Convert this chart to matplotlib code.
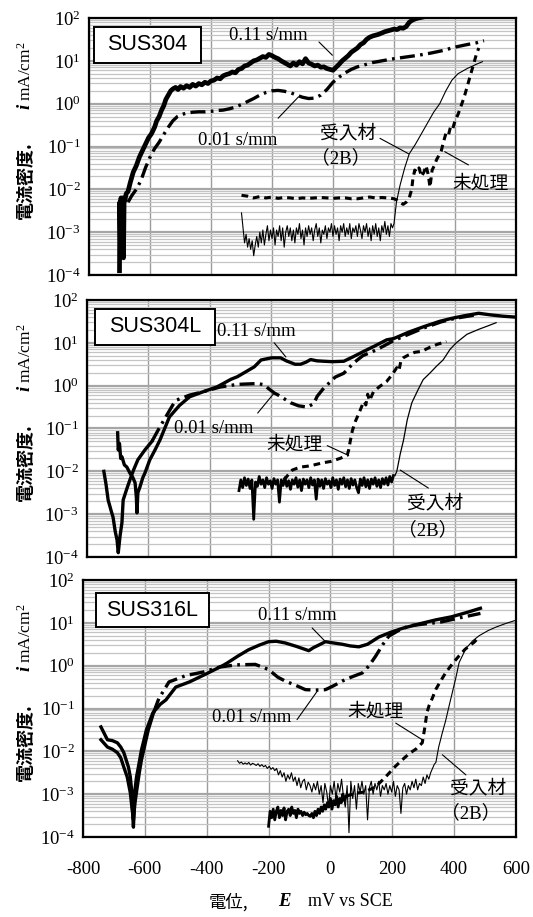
import numpy as np
import matplotlib
matplotlib.use("Agg")
import matplotlib.pyplot as plt
from matplotlib.ticker import FixedLocator, NullFormatter, LogLocator
from matplotlib.patches import Rectangle

plt.rcParams['mathtext.fontset'] = 'custom'
plt.rcParams['mathtext.rm'] = 'Liberation Serif'
plt.rcParams['mathtext.it'] = 'Liberation Serif:italic'
plt.rcParams['mathtext.bf'] = 'Liberation Serif:bold'
plt.rcParams['font.family'] = ['Liberation Serif', 'Noto Sans CJK JP']

# ---------------- data (x: mV vs SCE, y: log10 of i in mA/cm2) ----------------
panel_names = ["SUS304", "SUS304L", "SUS316L"]
x_ticks = [-800, -600, -400, -200, 0, 200, 400, 600]
y_exponents = [-4, -3, -2, -1, 0, 1, 2]

# ---- SUS304 ----
p1_fast_x = [-700, -699, -697, -695, -693, -691, -689, -687, -685, -682, -678, -672, -665, -655, -645, -635, -625, -615, -605,
             -595, -585, -578, -570, -562, -555, -548, -540, -532, -524, -516, -508, -500, -490, -480, -470, -460, -450, -440,
             -430, -420, -410, -400, -390, -380, -370, -360, -350, -340, -330, -320, -310, -300, -290, -280, -270, -260, -250,
             -240, -230, -220, -210, -200, -190, -180, -170, -160, -150, -140, -130, -120, -110, -100, -90, -80, -70, -60, -50,
             -40, -30, -20, -10, 0, 10, 20, 30, 40, 50, 60, 70, 80, 90, 100, 110, 120, 130, 140, 150, 160, 170, 180, 190, 200,
             210, 220, 230, 240, 250, 260, 270, 280, 300, 330, 360, 400, 420]
p1_fast_y = [-3.9, -2.3, -3.3, -2.2, -3.4, -2.4, -2.2, -3.6, -2.3, -2.25, -2.1, -2.05, -1.85, -1.6, -1.45, -1.25, -1.1, -0.95, -0.8,
             -0.7, -0.55, -0.4, -0.3, -0.15, -0.05, 0.1, 0.2, 0.3, 0.35, 0.38, 0.33, 0.4, 0.36, 0.42, 0.38, 0.45, 0.41, 0.47,
             0.44, 0.5, 0.47, 0.53, 0.55, 0.6, 0.58, 0.65, 0.68, 0.7, 0.74, 0.72, 0.8, 0.82, 0.88, 0.9, 0.95, 1.0, 1.02,
             1.06, 1.1, 1.08, 1.15, 1.12, 1.08, 1.05, 1.0, 0.96, 0.92, 0.88, 0.95, 0.9, 0.98, 0.93, 1.05, 0.95, 0.92, 0.88, 0.9,
             0.85, 0.86, 0.82, 0.8, 0.78, 0.85, 0.92, 1.0, 1.06, 1.12, 1.2, 1.25, 1.3, 1.38, 1.42, 1.5, 1.55, 1.58, 1.6, 1.62,
             1.65, 1.68, 1.7, 1.72, 1.74, 1.73, 1.77, 1.76, 1.8, 1.9, 1.95, 1.98, 2.0, 2.03, 2.06, 2.08, 2.1, 2.12]
p1_slow_x = [-672, -660, -645, -630, -615, -600, -585, -570, -555, -540, -525, -510, -495, -480, -460, -440, -420, -400, -380,
             -360, -340, -320, -300, -280, -260, -240, -220, -200, -180, -160, -140, -120, -100, -80, -60, -40, -20, 0, 20, 40,
             60, 80, 100, 130, 160, 200, 240, 280, 320, 360, 400, 440, 470, 495]
p1_slow_y = [-2.3, -2.15, -2.0, -1.8, -1.5, -1.25, -1.05, -0.9, -0.72, -0.55, -0.4, -0.3, -0.25, -0.22, -0.2, -0.19, -0.19, -0.18,
             -0.16, -0.15, -0.12, -0.08, -0.02, 0.05, 0.12, 0.2, 0.26, 0.3, 0.31, 0.29, 0.26, 0.2, 0.15, 0.12, 0.13, 0.2, 0.33,
             0.5, 0.62, 0.72, 0.8, 0.86, 0.9, 0.96, 1.0, 1.05, 1.09, 1.13, 1.18, 1.24, 1.32, 1.38, 1.42, 1.47]
p1_untr_x = [-300, -280, -260, -240, -220, -200, -180, -160, -140, -120, -100, -80, -60, -40, -20, 0, 20, 40, 60, 80, 100, 120,
             140, 160, 180, 200, 210, 220, 230, 240, 250, 258, 262, 268, 275, 282, 290, 298, 305, 312, 318, 325, 332, 340, 348,
             355, 362, 370, 378, 385, 392, 400, 410, 420, 430, 440, 450, 460, 470, 478]
p1_untr_y = [-2.14, -2.16, -2.2, -2.17, -2.2, -2.18, -2.21, -2.19, -2.2, -2.22, -2.2, -2.21, -2.2, -2.19, -2.2, -2.21, -2.2, -2.2,
             -2.22, -2.22, -2.2, -2.18, -2.2, -2.19, -2.2, -2.22, -2.25, -2.3, -2.35, -2.3, -2.2, -2.0, -1.75, -1.55, -1.6, -1.5,
             -1.7, -1.6, -1.45, -1.65, -1.95, -1.55, -1.45, -1.3, -1.2, -1.1, -0.9, -0.7, -0.75, -0.55, -0.6, -0.4, -0.25, -0.05,
             0.15, 0.4, 0.65, 0.9, 1.15, 1.3]
p1_recv_noise_x = list(range(-300, 200, 5))
p1_recv_noise_y = [-2.55, -2.9, -3.25, -3.05, -3.35, -3.15, -3.4, -3.2, -3.55, -3.3,
                   -3.1, -3.35, -3.0, -3.25, -2.95, -3.3, -3.05, -2.85, -3.2, -2.95,
                   -3.15, -2.9, -3.3, -2.95, -3.1, -2.85, -3.2, -2.9, -3.35, -3.0,
                   -2.85, -3.1, -2.9, -3.2, -2.95, -3.25, -2.9, -3.05, -2.8, -3.15,
                   -2.95, -3.3, -2.9, -3.1, -2.85, -3.05, -2.9, -3.2, -2.95, -2.8,
                   -3.1, -2.9, -3.25, -2.95, -3.05, -2.85, -3.15, -2.9, -3.0, -2.8,
                   -3.1, -2.85, -3.05, -2.9, -3.2, -2.85, -3.0, -2.8, -3.1, -2.9,
                   -3.05, -2.8, -3.15, -2.9, -3.0, -2.85, -3.1, -2.8, -2.95, -3.15,
                   -2.85, -3.0, -2.8, -3.1, -2.9, -3.2, -2.85, -3.05, -2.8, -3.1,
                   -2.9, -3.2, -2.85, -3.0, -2.75, -3.05, -2.85, -3.1, -2.8, -2.9]
p1_recv_rise_x = [200, 208, 220, 235, 250, 270, 290, 310, 330, 350, 370, 390, 410, 440, 470, 490]
p1_recv_rise_y = [-2.8, -2.3, -1.9, -1.5, -1.17, -0.95, -0.7, -0.45, -0.2, 0.0, 0.3, 0.55, 0.7, 0.82, 0.92, 0.98]

# ---- SUS304L ----
p2_fast_x = [-700, -698, -694, -690, -686, -678, -670, -660, -650, -643, -639, -637, -634, -627, -618, -611, -595, -578, -562,
             -531, -498, -465, -420, -376, -330, -309, -254, -232, -198, -168, -150, -121, -103, -85, -70, -50, -27, 0, 38, 70,
             103, 140, 178, 201, 250, 300, 350, 389, 430, 478, 520, 560, 600]
p2_fast_y = [-1.1, -1.5, -1.35, -1.7, -1.66, -1.85, -1.9, -2.04, -2.15, -2.27, -2.6, -2.97, -2.5, -2.36, -2.15, -2.04, -1.73,
             -1.5, -1.27, -0.73, -0.46, -0.26, -0.14, -0.03, 0.15, 0.21, 0.44, 0.6, 0.65, 0.65, 0.58, 0.5, 0.5, 0.55, 0.61,
             0.58, 0.57, 0.56, 0.57, 0.68, 0.8, 0.93, 1.07, 1.1, 1.25, 1.38, 1.5, 1.57, 1.63, 1.69, 1.65, 1.62, 1.6]
p2_slow_x = [-745, -738, -731, -722, -715, -708, -702, -698, -692, -686, -682, -672, -660, -647, -634, -611, -588, -565, -543,
             -520, -509, -465, -420, -365, -309, -243, -222, -209, -189, -176, -135, -110, -81, -60, -49, -30, -16, 10, 38, 70,
             100, 146, 200, 243, 300, 356, 400, 467]
p2_slow_y = [-2.0, -2.3, -2.67, -2.9, -3.07, -3.4, -3.6, -3.9, -3.5, -3.2, -2.67, -2.45, -2.2, -1.95, -1.73, -1.5, -1.3, -1.0,
             -0.73, -0.45, -0.34, -0.22, -0.14, -0.03, 0.03, 0.05, 0.02, -0.06, -0.17, -0.22, -0.4, -0.47, -0.5, -0.42, -0.25,
             -0.08, 0.02, 0.2, 0.29, 0.53, 0.7, 0.84, 1.05, 1.18, 1.35, 1.49, 1.57, 1.65]
p2_untr_x = [-157, -140, -130, -115, -103, -80, -59, -30, -5, 25, 49, 54, 59, 66, 76, 90, 103, 110, 116, 122, 135, 155, 178,
             195, 211, 218, 225, 232, 250, 270, 292, 320, 345, 373]
p2_untr_y = [-2.2, -2.05, -1.97, -1.93, -1.9, -1.88, -1.85, -1.8, -1.77, -1.7, -1.63, -1.5, -1.3, -1.05, -0.83, -0.6, -0.37,
             -0.45, -0.2, -0.35, -0.14, -0.02, 0.1, 0.25, 0.42, 0.35, 0.6, 0.65, 0.72, 0.78, 0.8, 0.9, 0.97, 1.03]
p2_recv_noise_x = list(range(-304, 201, 6))
p2_recv_noise_y = [-2.45, -2.2, -2.38, -2.15, -2.33, -2.18, -2.4, -2.2, -3.12, -2.25,
                   -2.35, -2.12, -2.3, -2.2, -2.38, -2.15, -2.3, -2.22, -2.4, -2.17,
                   -2.3, -2.2, -2.72, -2.2, -2.33, -2.15, -2.35, -2.22, -2.42, -2.2,
                   -2.3, -2.15, -2.37, -2.2, -2.45, -2.18, -2.3, -2.2, -2.38, -2.15,
                   -2.32, -2.2, -2.65, -2.18, -2.35, -2.2, -2.4, -2.17, -2.3, -2.22,
                   -2.38, -2.15, -2.33, -2.2, -2.42, -2.18, -2.3, -2.15, -2.36, -2.2,
                   -2.4, -2.17, -2.32, -2.2, -2.38, -2.5, -2.18, -2.33, -2.15, -2.36,
                   -2.2, -2.4, -2.18, -2.3, -2.15, -2.35, -2.2, -2.38, -2.17, -2.3,
                   -2.15, -2.32, -2.12, -2.25, -2.1]
p2_recv_rise_x = [205, 211, 222, 233, 245, 260, 280, 297, 320, 340, 362, 385, 405, 440, 480, 510, 535]
p2_recv_rise_y = [-2.1, -2.0, -1.6, -1.27, -0.8, -0.4, -0.1, 0.14, 0.3, 0.45, 0.6, 0.85, 1.0, 1.2, 1.32, 1.4, 1.47]

# ---- SUS316L ----
p3_fast_x = [-742, -721, -705, -689, -678, -668, -653, -647, -642, -639, -637, -634, -632, -627, -621, -611, -595, -574, -550,
             -532, -500, -456, -401, -346, -332, -300, -265, -230, -200, -175, -146, -110, -70, -55, -38, -16, 10, 38, 65, 92,
             120, 157, 195, 232, 290, 341, 391, 440, 485]
p3_fast_y = [-1.43, -1.73, -1.75, -1.8, -1.9, -2.03, -2.37, -2.6, -2.97, -3.5, -3.77, -3.3, -2.9, -2.6, -2.37, -1.97, -1.5,
             -1.1, -0.9, -0.8, -0.5, -0.38, -0.19, 0.01, 0.07, 0.22, 0.37, 0.48, 0.56, 0.57, 0.53, 0.45, 0.35, 0.42, 0.48, 0.56,
             0.53, 0.5, 0.46, 0.44, 0.5, 0.67, 0.78, 0.87, 0.98, 1.07, 1.14, 1.24, 1.34]
p3_slow_x = [-742, -721, -705, -689, -678, -668, -657, -647, -642, -637, -632, -626, -618, -611, -600, -589, -572, -555, -522,
             -467, -412, -357, -302, -243, -200, -170, -146, -115, -81, -50, -16, 10, 38, 70, 103, 125, 146, 170, 189, 220, 254,
             300, 358, 420, 485]
p3_slow_y = [-1.73, -1.9, -1.95, -2.03, -2.15, -2.37, -2.6, -2.97, -3.3, -3.6, -3.2, -2.9, -2.5, -2.2, -1.85, -1.5, -1.1,
             -0.77, -0.38, -0.23, -0.15, -0.03, 0.02, 0.03, -0.09, -0.27, -0.36, -0.45, -0.56, -0.57, -0.56, -0.47, -0.36,
             -0.26, -0.17, 0.0, 0.22, 0.5, 0.69, 0.82, 0.93, 0.97, 1.02, 1.12, 1.22]
p3_untr_noise_x = list(range(-200, 55, 5))
p3_untr_noise_y = [-3.75, -3.4, -3.55, -3.35, -3.6, -3.4, -3.3, -3.55, -3.38, -3.5,
                   -3.32, -3.6, -3.4, -3.35, -3.5, -3.3, -3.45, -3.38, -3.55, -3.35,
                   -3.45, -3.4, -3.5, -3.42, -3.48, -3.45, -3.5, -3.52, -3.45, -3.55,
                   -3.4, -3.5, -3.35, -3.45, -3.3, -3.4, -3.25, -3.35, -3.2, -3.3,
                   -3.1, -3.35, -3.15, -3.25, -3.05, -3.3, -3.1, -3.2, -3.0, -3.15, -3.05]
p3_untr_x = [50, 80, 110, 146, 178, 210, 232, 255, 276, 290, 297, 305, 312, 319, 330, 341, 357, 373, 395, 416, 435, 449, 465,
             482]
p3_untr_y = [-3.05, -2.98, -2.95, -2.83, -2.6, -2.35, -2.2, -2.05, -1.95, -1.85, -1.8, -1.45, -1.1, -0.93, -0.75, -0.55, -0.35,
             -0.16, 0.05, 0.23, 0.38, 0.46, 0.55, 0.68]
p3_recv_noise_x = list(range(-300, 331, 6))
p3_recv_noise_y = [-2.22, -2.28, -2.25, -2.3, -2.27, -2.3, -2.26, -2.32, -2.28, -2.3,
                   -2.33, -2.29, -2.35, -2.31, -2.36, -2.33, -2.4, -2.35, -2.42, -2.38,
                   -2.45, -2.4, -2.55, -2.45, -2.6, -2.5, -2.7, -2.55, -2.65, -2.5,
                   -2.7, -2.6, -2.8, -2.62, -2.85, -2.7, -2.65, -2.9, -2.72, -2.8,
                   -2.95, -2.75, -2.9, -2.7, -3.0, -2.8, -3.2, -2.75, -2.95, -3.3,
                   -2.8, -3.0, -2.7, -3.1, -2.75, -2.95, -2.65, -3.05, -3.3, -2.8,
                   -3.9, -2.7, -3.1, -2.8, -3.35, -2.75, -2.95, -2.7, -3.0, -2.8,
                   -3.6, -2.85, -2.7, -3.0, -2.75, -2.9, -2.7, -3.05, -2.8, -2.9,
                   -2.75, -3.0, -2.8, -2.95, -2.7, -3.05, -2.8, -2.9, -3.45, -2.85,
                   -2.75, -3.0, -2.8, -2.9, -2.7, -2.85, -2.65, -2.9, -2.75, -2.8,
                   -2.6, -2.75, -2.55, -2.65, -2.5, -2.4]
p3_recv_rise_x = [336, 341, 350, 362, 372, 384, 395, 405, 416, 438, 460, 481, 510, 535, 565, 595]
p3_recv_rise_y = [-2.3, -2.26, -1.9, -1.56, -1.3, -0.93, -0.6, -0.3, 0.07, 0.4, 0.58, 0.7, 0.82, 0.9, 0.98, 1.05]

# ---------------- figure ----------------
W, H = 533, 917
fig = plt.figure(figsize=(W / 100, H / 100), dpi=100)
fig.patch.set_facecolor('white')

panels_px = [(89, 516, 18, 275), (87, 516, 300, 557), (83, 516, 580, 837)]
axes = []
for (l, r, t, b) in panels_px:
    ax = fig.add_axes([l / W, 1 - b / H, (r - l) / W, (b - t) / H])
    axes.append(ax)

CJK = ['Noto Sans CJK JP', 'DejaVu Sans']
SERIF_CJK = ['Liberation Serif', 'Noto Sans CJK JP']

def p(v):
    return [10.0 ** a for a in v]

DASH = (0, (2.2, 1.6))
DASHDOT = (0, (4.5, 1.6, 0.8, 1.6))

for k, ax in enumerate(axes):
    ax.set_xlim(-800, 600)
    ax.set_yscale('log')
    ax.set_ylim(1e-4, 1e2)
    ax.xaxis.set_major_locator(FixedLocator(x_ticks))
    ax.yaxis.set_major_locator(FixedLocator([10.0 ** e for e in y_exponents]))
    ax.yaxis.set_minor_locator(LogLocator(base=10, subs=[2, 3, 4, 5, 6, 7, 8, 9], numticks=20))
    ax.yaxis.set_minor_formatter(NullFormatter())
    ax.set_yticklabels([r'$\mathregular{10^{%d}}$' % e for e in y_exponents])
    ax.grid(which='major', axis='x', color='#9c9c9c', lw=1.0)
    ax.grid(which='major', axis='y', color='#a6a6a6', lw=1.6)
    ax.grid(which='minor', axis='y', color='#c4c4c4', lw=0.9)
    ax.set_axisbelow(True)
    ax.tick_params(which='both', length=0)
    ax.tick_params(axis='y', labelsize=13.5, pad=6)
    ax.tick_params(axis='x', labelsize=13.5, pad=17)
    for s in ax.spines.values():
        s.set_linewidth(1.6)
        s.set_color('black')
    if k < 2:
        ax.set_xticklabels([])
    else:
        ax.set_xticklabels([str(v) for v in x_ticks])

# ---- panel 1 ----
ax = axes[0]
ax.plot(p1_fast_x, p(p1_fast_y), color='black', lw=3.4, solid_joinstyle='round')
ax.plot(p1_slow_x, p(p1_slow_y), color='black', lw=2.4, linestyle=DASHDOT)
ax.plot(p1_untr_x, p(p1_untr_y), color='black', lw=2.2, linestyle=DASH)
ax.plot(p1_recv_noise_x + p1_recv_rise_x, p(p1_recv_noise_y + p1_recv_rise_y), color='black', lw=0.8)

# ---- panel 2 ----
ax = axes[1]
ax.plot(p2_fast_x, p(p2_fast_y), color='black', lw=2.4)
ax.plot(p2_slow_x[:17], p(p2_slow_y[:17]), color='black', lw=2.4)
ax.plot(p2_slow_x[16:], p(p2_slow_y[16:]), color='black', lw=2.4, linestyle=DASHDOT)
ax.plot(p2_untr_x, p(p2_untr_y), color='black', lw=2.2, linestyle=DASH)
ax.plot(p2_recv_noise_x, p(p2_recv_noise_y), color='black', lw=2.0)
ax.plot(p2_recv_rise_x, p(p2_recv_rise_y), color='black', lw=0.9)

# ---- panel 3 ----
ax = axes[2]
ax.plot(p3_fast_x, p(p3_fast_y), color='black', lw=2.4)
ax.plot(p3_slow_x[:17], p(p3_slow_y[:17]), color='black', lw=2.4)
ax.plot(p3_slow_x[16:], p(p3_slow_y[16:]), color='black', lw=2.4, linestyle=DASHDOT)
ax.plot(p3_untr_noise_x, p(p3_untr_noise_y), color='black', lw=2.0)
ax.plot(p3_untr_x, p(p3_untr_y), color='black', lw=2.2, linestyle=DASH)
ax.plot(p3_recv_noise_x + p3_recv_rise_x, p(p3_recv_noise_y + p3_recv_rise_y), color='black', lw=0.8)

# ---------------- annotations ----------------
fs_ann = 13.5
def lbl(ax, x, ly, s, family=SERIF_CJK, size=fs_ann):
    ax.text(x, 10.0 ** ly, s, ha='center', va='center', fontsize=size, family=family, zorder=6)

def leader(ax, x0, y0, x1, y1):
    ax.annotate('', xy=(x1, 10.0 ** y1), xytext=(x0, 10.0 ** y0),
                arrowprops=dict(arrowstyle='-', lw=0.8, color='black', shrinkA=0, shrinkB=0), zorder=6)

boxes = [(0.0117, 0.262, 0.825, 0.965), (0.0198, 0.298, 0.825, 0.965), (0.030, 0.291, 0.817, 0.949)]
for ax, name, (x0, x1, y0, y1) in zip(axes, panel_names, boxes):
    ax.add_patch(Rectangle((x0, y0), x1 - x0, y1 - y0, transform=ax.transAxes, facecolor='white',
                           edgecolor='black', lw=1.4, zorder=7))
    ax.text((x0 + x1) / 2, (y0 + y1) / 2, name, transform=ax.transAxes, ha='center', va='center',
            fontsize=15.5, family='Liberation Sans', zorder=8)

ax = axes[0]
lbl(ax, -213, 1.59, '0.11 s/mm'); leader(ax, -46, 1.44, -2, 1.13)
lbl(ax, -311, -0.85, '0.01 s/mm'); leader(ax, -180, -0.34, -113, 0.16)
lbl(ax, 49, -0.69, '受入材', CJK); lbl(ax, 26, -1.27, '（2B）')
leader(ax, 154, -0.81, 248, -1.17)
lbl(ax, 483, -1.85, '未処理', CJK); leader(ax, 444, -1.43, 366, -1.12)

ax = axes[1]
lbl(ax, -246, 1.26, '0.11 s/mm'); leader(ax, -189, 1.0, -151, 0.67)
lbl(ax, -385, -1.0, '0.01 s/mm'); leader(ax, -243, -0.64, -189, -0.17)
lbl(ax, -124, -1.37, '未処理', CJK); leader(ax, -16, -1.4, 54, -1.63)
lbl(ax, 336, -2.74, '受入材', CJK); lbl(ax, 312, -3.37, '（2B）')
leader(ax, 222, -1.97, 314, -2.39)

ax = axes[2]
lbl(ax, -107, 1.16, '0.11 s/mm'); leader(ax, -59, 0.88, -16, 0.56)
lbl(ax, -255, -1.2, '0.01 s/mm'); leader(ax, -108, -1.26, -43, -0.6)
lbl(ax, 146, -1.05, '未処理', CJK); leader(ax, 211, -1.34, 297, -1.73)
lbl(ax, 476, -2.86, '受入材', CJK); lbl(ax, 452, -3.45, '（2B）')
leader(ax, 362, -2.08, 438, -2.55)

# ---------------- axis labels ----------------
def ftext(xpx, ypx, s, **kw):
    fig.text(xpx / W, 1 - ypx / H, s, **kw)

for (l, r, t, b) in panels_px:
    c = (t + b) / 2
    ftext(25, c + 34, '電流密度.', rotation=90, ha='center', va='center', fontsize=13,
          family=CJK, weight='bold')
    ftext(25, c - 40, 'i', rotation=90, ha='center', va='center', fontsize=13.5,
          family='Liberation Serif', weight='bold', style='italic')
    ftext(26, c - 75, r'mA/cm$\mathregular{^2}$', rotation=90, ha='center', va='center', fontsize=12.5,
          family='Liberation Serif')

ftext(228, 902, '電位,', ha='center', va='center', fontsize=12.5, family=CJK)
ftext(284, 902, 'E', ha='center', va='center', fontsize=13.5, family='Liberation Serif',
      weight='bold', style='italic')
ftext(350, 902, 'mV vs SCE', ha='center', va='center', fontsize=13, family='Liberation Serif')

fig.savefig('out.png', dpi=100, facecolor='white')
